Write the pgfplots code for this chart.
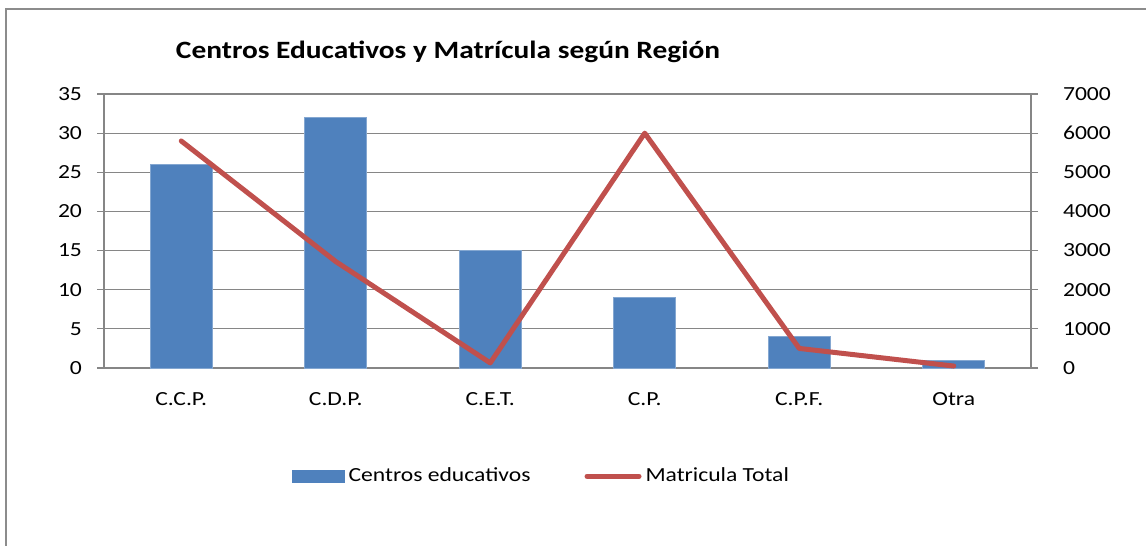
\documentclass[border=0pt]{standalone}
\usepackage{pgfplots}
\pgfplotsset{compat=1.18}
\usepackage{fontspec}
\setmainfont[FakeStretch=1.18]{Carlito}
\definecolor{barblue}{HTML}{4F81BD}
\definecolor{linered}{HTML}{C0504D}
\definecolor{gridgray}{HTML}{868686}
\definecolor{framegray}{HTML}{8C8C8C}
\begin{document}
\begin{tikzpicture}[x=1pt,y=1pt]
\path[use as bounding box] (-52,-89) rectangle (521,184);
\begin{scope}
\clip (-52,-89) rectangle (521,184);
\draw[framegray, line width=1pt] (-48.8,-100) -- (-48.8,179.5) -- (600,179.5);
\end{scope}
\node[font=\fontsize{12.45}{15}\selectfont\bfseries] at (172,158) {Centros Educativos y Matrícula según Región};
\begin{axis}[
  scale only axis, width=463.5pt, height=137pt,
  xmin=-0.5, xmax=5.5, ymin=0, ymax=35,
  ytick={0,5,...,35},
  xtick={0,1,2,3,4,5},
  xticklabels={C.C.P.,C.D.P.,C.E.T.,C.P.,C.P.F.,Otra},
  extra x ticks={-0.5,0.5,1.5,2.5,3.5,4.5,5.5},
  extra x tick labels={},
  extra x tick style={grid=none, major tick length=3.5pt, tick align=outside, tick style={gridgray, line width=0.6pt}},
  major x tick style={draw=none},
  axis x line*=bottom, axis y line*=left,
  axis line style={gridgray, line width=0.6pt},
  ymajorgrids, grid style={gridgray, line width=0.6pt},
  tick align=outside, major tick length=3.5pt,
  y tick style={gridgray, line width=0.6pt},
  tick label style={font=\fontsize{10}{12}\selectfont, text=black},
  /pgf/number format/assume math mode=true,
  yticklabel style={xshift=-4pt},
  xticklabel style={yshift=-5pt},
  legend style={draw=none, at={(0.473,-0.395)}, anchor=center, legend columns=2,
    font=\fontsize{10}{12}\selectfont, /tikz/every even column/.append style={column sep=25pt}},
  legend cell align=left,
]
\addplot[ybar, bar width=31pt, fill=barblue, draw=barblue!70!white, line width=0.3pt,
  area legend,
  legend image code/.code={\fill[barblue] (0pt,-3pt) rectangle (26pt,3pt);}]
  coordinates {(0,26) (1,32) (2,15) (3,9) (4,4) (5,1)};
\addlegendentry{Centros educativos}
\addlegendimage{legend image code/.code={\draw[linered, line width=2.5pt, line cap=round] (1pt,0pt) -- (27pt,0pt);}}
\addlegendentry{Matricula Total}
\end{axis}
\begin{axis}[
  scale only axis, width=463.5pt, height=137pt,
  xmin=-0.5, xmax=5.5, ymin=0, ymax=7000,
  ytick={0,1000,...,7000},
  axis x line=none, axis y line*=right,
  axis line style={gridgray, line width=0.6pt},
  tick align=outside, major tick length=3.5pt,
  y tick style={gridgray, line width=0.6pt},
  tick label style={font=\fontsize{10}{12}\selectfont, text=black},
  /pgf/number format/assume math mode=true,
  /pgf/number format/1000 sep={},
  yticklabel style={xshift=9pt},
]
\addplot[linered, line width=2.5pt, line cap=round, line join=round, mark=none]
  coordinates {(0,5800) (1,2720) (2,130) (3,6000) (4,500) (5,50)};
\end{axis}
\end{tikzpicture}
\end{document}
